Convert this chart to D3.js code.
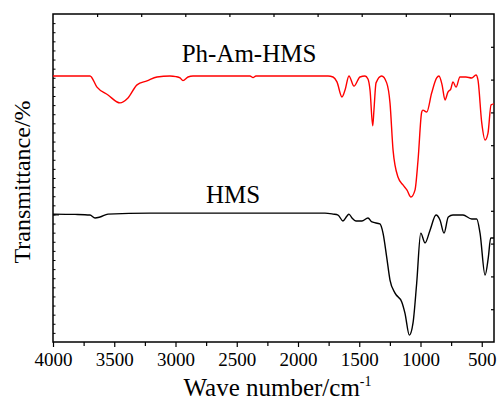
<!DOCTYPE html>
<html>
<head>
<meta charset="utf-8">
<script src="https://cdn.jsdelivr.net/npm/d3@7"></script>
<style>
  body { margin: 0; background: #fff; }
  text { font-family: "Liberation Serif", "Times New Roman", serif; fill: #000; }
</style>
</head>
<body>
<div id="my_dataviz"></div>
<script>
// Ph-Am-HMS spectrum (wavenumber, transmittance in arbitrary units)
const red_wave = [4000,3698,3641,3551,3453,3388,3314,3233,3151,3045,2996,2963,2939,2898,2857,2392,2367,2343,1755,1714,1682,1641,1616,1584,1543,1494,1453,1429,1412,1390,1380,1363,1317,1276,1249,1224,1184,1143,1110,1078,1045,1020,990,980,949,909,868,849,824,800,776,753,735,710,678,629,582,547,531,500,473,449,424,400];
const red_trans = [81.1,81.1,77.7,75.3,72.9,74.4,78.4,79.6,80.8,81.1,80.9,80.5,79.7,80.8,81.1,81.1,80.6,81.1,81.1,80.8,79.3,74.7,76.8,81.1,78.0,80.8,81.1,80.2,76.8,65.9,70.7,79.0,81.1,79.0,72.9,58.5,50.3,47.9,46.3,44.2,46.3,55.5,70.1,70.7,70.1,75.9,80.5,81.1,78.4,73.8,76.2,77.1,79.3,77.7,80.8,80.8,80.5,81.4,79.9,66.8,61.6,63.7,72.3,72.6];

// HMS spectrum
const black_wave = [4000,3820,3698,3657,3616,3551,3208,2392,1780,1714,1673,1633,1600,1584,1559,1527,1478,1429,1396,1331,1306,1276,1249,1208,1153,1127,1091,1061,1031,998,963,922,873,841,808,773,735,653,582,541,514,473,446,427,400];
const black_trans = [39.0,38.9,38.7,37.8,38.1,39.0,39.3,39.3,39.3,39.0,38.7,36.9,38.4,39.0,37.8,36.9,36.9,37.8,36.6,36.0,33.2,25.9,18.9,14.9,12.2,8.8,2.1,5.8,18.0,33.2,30.2,34.1,38.7,37.2,33.2,38.1,38.7,38.7,37.5,37.5,33.2,20.4,25.9,31.7,31.7];

const x_ticks = [4000,3500,3000,2500,2000,1500,1000,500];
const series_labels = ["Ph-Am-HMS", "HMS"];

const width = 501, height = 403;
const margin = {top: 14, right: 7, bottom: 61, left: 53};
const chartWidth = width - margin.left - margin.right,
      chartHeight = height - margin.top - margin.bottom;

const svg = d3.select("#my_dataviz")
  .append("svg")
  .attr("width", width)
  .attr("height", height)
  .append("g")
  .attr("transform", `translate(${margin.left}, ${margin.top})`);

const x = d3.scaleLinear().domain([4000, 400]).range([0, chartWidth]);
const y = d3.scaleLinear().domain([0, 100]).range([chartHeight, 0]);

// frame
svg.append("rect")
  .attr("width", chartWidth)
  .attr("height", chartHeight)
  .attr("fill", "none")
  .attr("stroke", "#000")
  .attr("stroke-width", 1.5);

// bottom axis, majors every 500 with minors between
const xAxis = svg.append("g")
  .attr("transform", `translate(0, ${chartHeight})`)
  .call(d3.axisBottom(x).tickValues(x_ticks).tickSize(5).tickPadding(6).tickFormat(d3.format("d")));
xAxis.select(".domain").remove();
xAxis.selectAll("line").attr("stroke-width", 1.2);
xAxis.selectAll("text")
  .style("font-size", "19px")
  .style("font-family", "Liberation Serif");
svg.append("g")
  .attr("transform", `translate(0, ${chartHeight})`)
  .call(d3.axisBottom(x).tickValues(d3.range(3750, 400, -500)).tickSize(4).tickFormat(""))
  .call(g => g.select(".domain").remove())
  .selectAll("line").attr("stroke-width", 1.2);

// top axis ticks (inward)
const topScale = d3.scaleLinear().domain([0, 10]).range([0, chartWidth]);
svg.append("g")
  .call(d3.axisBottom(topScale).tickValues(d3.range(1, 10)).tickSize(3).tickFormat(""))
  .call(g => g.select(".domain").remove())
  .selectAll("line").attr("stroke-width", 1.2);

// right axis ticks (inward)
const rightScale = d3.scaleLinear().domain([0, 10]).range([chartHeight, 0]);
svg.append("g")
  .attr("transform", `translate(${chartWidth}, 0)`)
  .call(d3.axisRight(rightScale).tickValues(d3.range(1, 10)).tickSize(-3).tickFormat(""))
  .call(g => g.select(".domain").remove())
  .selectAll("line").attr("stroke-width", 1.2);

// left axis minor ticks (inward)
const leftScale = d3.scaleLinear().domain([0, 36]).range([chartHeight, 0]);
svg.append("g")
  .call(d3.axisLeft(leftScale).tickValues(d3.range(1, 36)).tickSize(-2.5).tickFormat(""))
  .call(g => g.select(".domain").remove())
  .selectAll("line").attr("stroke-width", 1);
svg.append("g")
  .call(d3.axisLeft(leftScale).tickValues([14]).tickSize(-6).tickFormat(""))
  .call(g => g.select(".domain").remove())
  .selectAll("line").attr("stroke-width", 1);

// curves
const line = d3.line()
  .x(d => x(d[0]))
  .y(d => y(d[1]))
  .curve(d3.curveMonotoneX);

const redData = red_wave.map((w, i) => [w, red_trans[i]]);
const blackData = black_wave.map((w, i) => [w, black_trans[i]]);

svg.append("path")
  .datum(blackData)
  .attr("fill", "none")
  .attr("stroke", "#000")
  .attr("stroke-width", 1.4)
  .attr("d", line);

svg.append("path")
  .datum(redData)
  .attr("fill", "none")
  .attr("stroke", "#ff0000")
  .attr("stroke-width", 1.4)
  .attr("d", line);

// series labels
svg.append("text")
  .attr("x", x(2400))
  .attr("y", 48)
  .attr("text-anchor", "middle")
  .style("font-size", "25px")
  .text(series_labels[0]);

svg.append("text")
  .attr("x", x(2530))
  .attr("y", 189)
  .attr("text-anchor", "middle")
  .style("font-size", "25px")
  .text(series_labels[1]);

// axis titles
const xt = svg.append("text")
  .attr("x", chartWidth / 2 + 4)
  .attr("y", chartHeight + 54)
  .attr("text-anchor", "middle")
  .style("font-size", "25px");
xt.append("tspan").text("Wave number/cm");
xt.append("tspan").attr("dy", -10).style("font-size", "14px").text("-1");

svg.append("text")
  .attr("transform", `translate(-23, ${chartHeight / 2 + 4}) rotate(-90)`)
  .attr("text-anchor", "middle")
  .style("font-size", "24px")
  .text("Transmittance/%");
</script>
</body>
</html>
